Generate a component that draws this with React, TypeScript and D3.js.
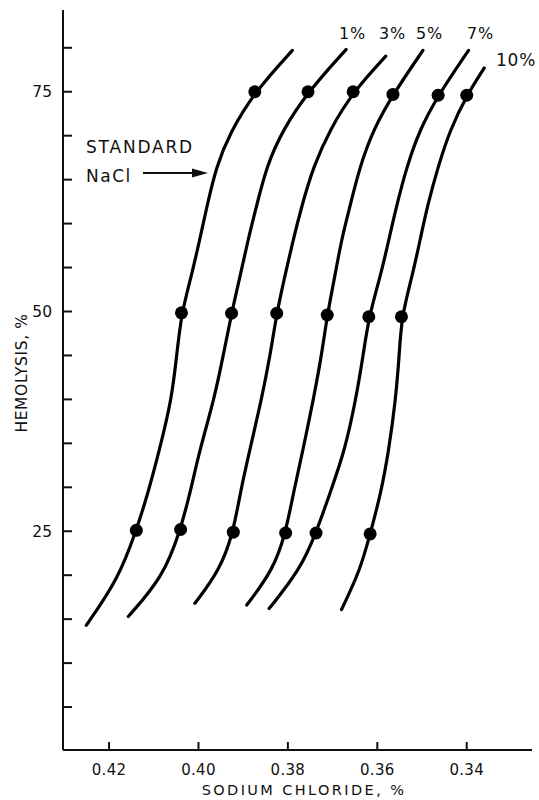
import React from "react";
import * as d3 from "d3";

// ---- data (NaCl %, hemolysis %) ----
const SERIES_NAMES = ["STANDARD", "1%", "3%", "5%", "7%", "10%"];

const CURVE_STANDARD: [number, number][] = [
  [0.379, 79.7], [0.3874, 75], [0.393, 70.3], [0.396, 66.5], [0.3981, 62.0], [0.3997, 58.2],
  [0.4016, 54.0], [0.4038, 49.85], [0.4049, 44.9], [0.406, 40.0], [0.4087, 34.3], [0.4113, 29.3],
  [0.4139, 25.1], [0.418, 19.5], [0.4251, 14.3],
];
const CURVE_1: [number, number][] = [
  [0.367, 79.8], [0.3755, 75], [0.3811, 70.7], [0.3848, 66.5], [0.387, 62], [0.3889, 58.2],
  [0.3907, 54], [0.3926, 49.8], [0.3945, 44.9], [0.3965, 40], [0.3997, 34.3], [0.4019, 29.3],
  [0.404, 25.2], [0.4079, 19.8], [0.4157, 15.3],
];
const CURVE_3: [number, number][] = [
  [0.3581, 79.05], [0.3654, 75], [0.3706, 70.7], [0.3743, 66.5], [0.3769, 62], [0.3788, 58.2],
  [0.3807, 54], [0.3825, 49.8], [0.384, 44.9], [0.3859, 40], [0.3885, 34.3], [0.3907, 29.3],
  [0.3922, 24.9], [0.3952, 20.6], [0.4008, 16.8],
];
const CURVE_5: [number, number][] = [
  [0.3498, 79.7], [0.3565, 74.7], [0.3609, 70.7], [0.3639, 66.5], [0.3661, 62], [0.368, 58.2],
  [0.3695, 54], [0.3712, 49.6], [0.3725, 44.9], [0.3743, 40], [0.3766, 34.3], [0.3788, 29.3],
  [0.3805, 24.8], [0.3833, 20.6], [0.3892, 16.6],
];
const CURVE_7: [number, number][] = [
  [0.3396, 79.7], [0.3464, 74.6], [0.3505, 70.7], [0.3534, 66.5], [0.3557, 62], [0.3574, 58.2],
  [0.3593, 54], [0.3619, 49.4], [0.3632, 44.9], [0.3648, 40], [0.3672, 34.3], [0.3706, 29.3],
  [0.3737, 24.8], [0.3773, 20.6], [0.3842, 16.2],
];
const CURVE_10: [number, number][] = [
  [0.3361, 77.7], [0.34, 74.6], [0.3437, 70.7], [0.3464, 66.5], [0.3488, 62], [0.3504, 58.2],
  [0.3522, 54], [0.3546, 49.4], [0.3551, 44.9], [0.3559, 40], [0.3574, 34.3], [0.3592, 29.3],
  [0.3616, 24.7], [0.3638, 20.6], [0.368, 16.1],
];
const CURVES = [CURVE_STANDARD, CURVE_1, CURVE_3, CURVE_5, CURVE_7, CURVE_10];

// measured points (dots)
const DOTS_STANDARD: [number, number][] = [[0.3874, 75], [0.4038, 49.85], [0.4139, 25.1]];
const DOTS_1: [number, number][] = [[0.3755, 75], [0.3926, 49.8], [0.404, 25.2]];
const DOTS_3: [number, number][] = [[0.3654, 75], [0.3825, 49.8], [0.3922, 24.9]];
const DOTS_5: [number, number][] = [[0.3565, 74.7], [0.3712, 49.6], [0.3805, 24.8]];
const DOTS_7: [number, number][] = [[0.3464, 74.6], [0.3619, 49.4], [0.3737, 24.8]];
const DOTS_10: [number, number][] = [[0.34, 74.6], [0.3546, 49.4], [0.3616, 24.7]];
const DOTS = [DOTS_STANDARD, DOTS_1, DOTS_3, DOTS_5, DOTS_7, DOTS_10];

const X_TICKS = [0.42, 0.4, 0.38, 0.36, 0.34];
const X_TICK_LABELS = ["0.42", "0.40", "0.38", "0.36", "0.34"];
const Y_TICKS = [5, 10, 15, 20, 25, 30, 35, 40, 45, 50, 55, 60, 65, 70, 75, 80];
const Y_LABELED = [25, 50, 75];

const X_TITLE = "SODIUM CHLORIDE, %";
const Y_TITLE = "HEMOLYSIS, %";

// annotation placement for the percentage labels (pixels: x, baseline, font size)
const LABEL_POS: [number, number, number][] = [
  [0, 0, 0],
  [339, 38.5, 16],
  [379, 38.5, 16],
  [416, 38.5, 16],
  [467, 38.5, 16],
  [496, 66, 17],
];

const W = 539;
const H = 800;
const FONT = "'DejaVu Sans', 'Liberation Sans', Arial, sans-serif";

export default function App() {
  const x = d3.scaleLinear().domain([0.4303, 0.3254]).range([63, 532]);
  const y = d3.scaleLinear().domain([0, 84.3]).range([751, 10]);
  const line = d3
    .line<[number, number]>()
    .x((d) => x(d[0]))
    .y((d) => y(d[1]))
    .curve(d3.curveBasis);

  const x0 = x.range()[0];
  const y0 = y(0) - 1;

  return (
    <svg
      width={W}
      height={H}
      viewBox={`0 0 ${W} ${H}`}
      style={{ position: "absolute", left: 0, top: 0, background: "#fff" }}
    >
      <rect x={0} y={0} width={W} height={H} fill="#fff" />
      {/* axes */}
      <line x1={x0} y1={y.range()[1]} x2={x0} y2={y0} stroke="#111" strokeWidth={2} />
      <line x1={x0} y1={y0} x2={x.range()[1]} y2={y0} stroke="#111" strokeWidth={2} />
      {Y_TICKS.map((t) => (
        <line key={"yt" + t} x1={x0} x2={x0 + 9} y1={y(t)} y2={y(t)} stroke="#111" strokeWidth={2} />
      ))}
      {Y_LABELED.map((t) => (
        <text key={"yl" + t} x={52} y={y(t) + 5.5} textAnchor="end" fontFamily={FONT} fontSize={15.5} fill="#111">
          {t}
        </text>
      ))}
      {X_TICKS.map((t, i) => (
        <g key={"xt" + t}>
          <line x1={x(t)} x2={x(t)} y1={y0} y2={y0 - 8} stroke="#111" strokeWidth={2} />
          <text x={x(t)} y={774.5} textAnchor="middle" fontFamily={FONT} fontSize={15} letterSpacing={0.3} fill="#111">
            {X_TICK_LABELS[i]}
          </text>
        </g>
      ))}
      <text x={304} y={794.5} textAnchor="middle" fontFamily={FONT} fontSize={14.5} letterSpacing={2.4} fill="#111">
        {X_TITLE}
      </text>
      <text
        transform="translate(27,373) rotate(-90)"
        textAnchor="middle"
        fontFamily={FONT}
        fontSize={15.5}
        letterSpacing={0.6}
        fill="#111"
      >
        {Y_TITLE}
      </text>

      {/* curves */}
      {CURVES.map((c, i) => (
        <path key={"c" + i} d={line(c) || ""} fill="none" stroke="#000" strokeWidth={3.2} strokeLinecap="round" />
      ))}
      {DOTS.map((ds, i) =>
        ds.map((d, j) => <circle key={"d" + i + "-" + j} cx={x(d[0])} cy={y(d[1])} r={6.5} fill="#000" />)
      )}

      {/* labels */}
      {SERIES_NAMES.map((n, i) =>
        i === 0 ? null : (
          <text key={"lab" + i} x={LABEL_POS[i][0]} y={LABEL_POS[i][1]} fontFamily={FONT} fontSize={LABEL_POS[i][2]} letterSpacing={0.8} fill="#111">
            {n}
          </text>
        )
      )}
      <text x={86} y={153} fontFamily={FONT} fontSize={17} letterSpacing={1.8} fill="#111">
        {SERIES_NAMES[0]}
      </text>
      <text x={86} y={181.5} fontFamily={FONT} fontSize={17} letterSpacing={1.5} fill="#111">
        NaCl
      </text>
      <line x1={143} y1={173} x2={196} y2={173} stroke="#111" strokeWidth={2} />
      <path d="M 208 173 L 192 168.5 L 192 177.5 Z" fill="#111" />
    </svg>
  );
}
